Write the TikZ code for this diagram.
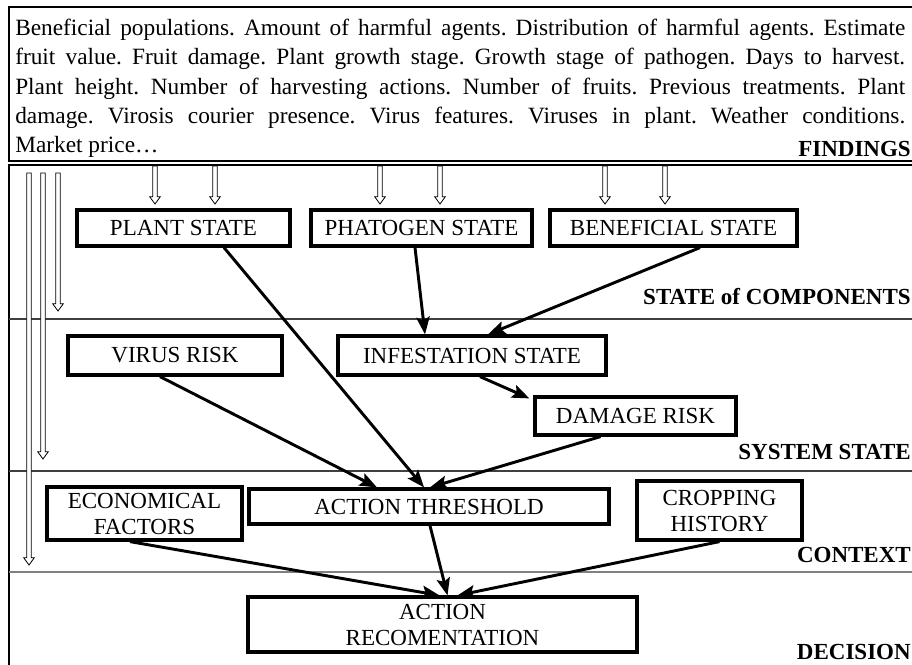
\documentclass[tikz,border=0pt]{standalone}
\usepackage{fontspec}
\setmainfont{Liberation Serif}
\usetikzlibrary{arrows.meta,calc}
\begin{document}
\begin{tikzpicture}[x=0.75pt,y=-0.75pt,
  box/.style={draw, line width=2.4pt, inner sep=0pt, align=center,
    font=\fontsize{17.25}{19.5}\selectfont},
  link/.style={line width=2.2pt, -{Stealth[length=13pt,width=10pt,inset=2.5pt]}},
  % outlined block arrow: hollow shaft and open head
  hollow/.style={draw, line width=0.6pt, fill=white, line join=miter,
    to path={let \p1=(\tikztostart), \p2=(\tikztotarget) in
      (\x1-1.7pt,\y1) -- (\x1-1.7pt,\y2+5.5pt) -- (\x1-4pt,\y2+5.5pt)
      -- (\x2,\y2) -- (\x1+4pt,\y2+5.5pt) -- (\x1+1.7pt,\y2+5.5pt)
      -- (\x1+1.7pt,\y1) -- cycle}},
  band/.style={anchor=base east, inner sep=0pt,
    font=\bfseries\fontsize{17.25}{19.5}\selectfont},
  sep/.style={line width=0.9pt, black!75},
]
\clip (0,0) rectangle (912,664);

% findings panel and the lower panel
\draw[line width=1pt] (9,7) rectangle (930,161);
\draw[line width=1pt] (9,165) rectangle (930,700);
\draw[sep] (9,319) -- (930,319);
\draw[sep] (9,471) -- (930,471);
\draw[line width=2.2pt, gray] (9,572) -- (930,572);

% list of findings
\node[anchor=north west, inner sep=0pt, text width=667.5pt, align=justify,
  font=\fontsize{17.5}{21.94}\selectfont\frenchspacing] (findtext) at (15,19)
  {Beneficial populations. Amount of harmful agents. Distribution of harmful agents. Estimate\linebreak
   fruit value. Fruit damage. Plant growth stage. Growth stage of pathogen. Days to harvest.\linebreak
   Plant height. Number of harvesting actions. Number of fruits. Previous treatments. Plant\linebreak
   damage. Virosis courier presence. Virus features. Viruses in plant. Weather conditions.\linebreak
   Market price\ldots};

% band labels
\node[band] (lfind) at (911,156) {FINDINGS};
\node[band] (lcomp) at (911,304) {STATE of COMPONENTS};
\node[band] (lsys)  at (911,459) {SYSTEM STATE};
\node[band] (lctx)  at (911,562) {CONTEXT};
\node[band] (ldec)  at (911,659) {DECISION};

% boxes
\node[box, minimum width=159.75pt, minimum height=27pt]   (plant)  at (183.5,228) {PLANT STATE};
\node[box, minimum width=165.75pt, minimum height=27pt]   (patho)  at (421.5,228) {PHATOGEN STATE};
\node[box, minimum width=185.25pt, minimum height=27pt]   (benef)  at (673.5,228) {BENEFICIAL STATE};
\node[box, minimum width=160.5pt,  minimum height=29.25pt] (virus)  at (175,355.5) {VIRUS RISK};
\node[box, minimum width=201pt,    minimum height=29.25pt] (infest) at (472,355.5) {INFESTATION STATE};
\node[box, minimum width=150.75pt, minimum height=28.5pt] (damage) at (635.5,416) {DAMAGE RISK};
\node[box, minimum width=146.25pt, minimum height=39.75pt] (econ)   at (144.5,513.5) {ECONOMICAL\\FACTORS};
\node[box, minimum width=270pt,    minimum height=26.25pt] (thresh) at (429,506.5) {ACTION THRESHOLD};
\node[box, minimum width=123.75pt, minimum height=44.25pt] (crop)   at (719.5,510.5) {CROPPING\\HISTORY};
\node[box, minimum width=291.75pt, minimum height=41.25pt] (recom)  at (442.5,624.5) {ACTION\\RECOMENTATION};

% findings feeding the components
\foreach \fname/\fx in {f1/155,f2/215,f3/380,f4/440,f5/605,f6/665}{
  \coordinate (\fname-top) at (\fx,166);
  \coordinate (\fname-end) at (\fx,204);
  \draw[hollow] (\fname-top) to (\fname-end);
}

% findings feeding the lower levels
\coordinate (g1) at (29,173);  \coordinate (g1e) at (29,565);
\coordinate (g2) at (43,173);  \coordinate (g2e) at (43,459);
\coordinate (g3) at (58,173);  \coordinate (g3e) at (58,311);
\draw[hollow] (g1) to (g1e);
\draw[hollow] (g2) to (g2e);
\draw[hollow] (g3) to (g3e);

% dependencies
\draw[link] ($(plant.south)+(40.5,0)$)  -- ($(thresh.north)+(-5,0)$);
\draw[link] ($(patho.south)+(-6.5,0)$)  -- ($(infest.north)+(-47,0)$);
\draw[link] ($(benef.south)+(26.5,0)$)  -- ($(infest.north)+(16,0)$);
\draw[link] ($(virus.south)+(-15,0)$)   -- ($(thresh.north)+(-52,0)$);
\draw[link] ($(infest.south)+(8,0)$)    -- ($(damage.north west)+(-4,3)$);
\draw[link] ($(damage.south)+(-35,0)$)  -- ($(thresh.north)+(1,0)$);
\draw[link] ($(econ.south)+(-14.5,0)$)  -- ($(recom.north)+(-3,0)$);
\draw[link] ($(thresh.south)+(1,0)$)    -- ($(recom.north)+(5,0)$);
\draw[link] (crop.south)                -- ($(recom.north)+(15,0)$);
\end{tikzpicture}
\end{document}
